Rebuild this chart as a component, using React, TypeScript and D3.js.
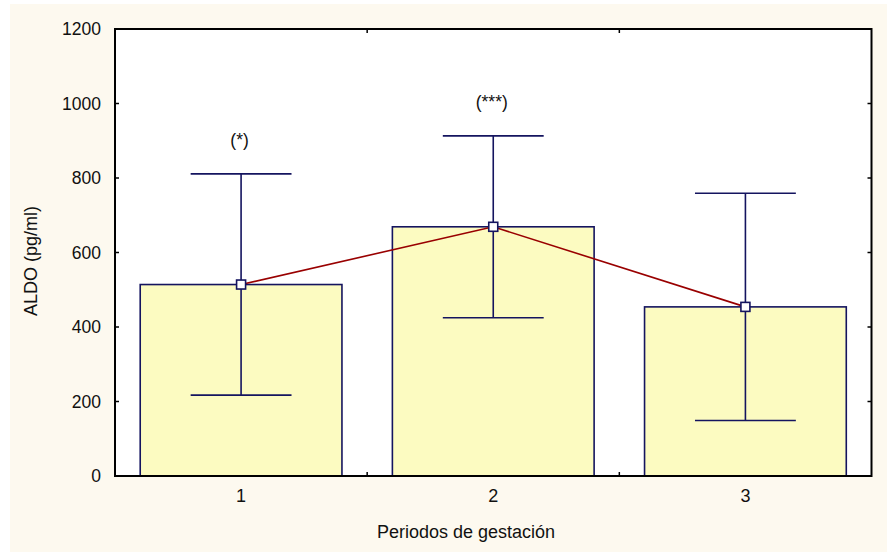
import React from "react";
import * as d3 from "d3";

// Gestation periods and ALDO means with their spread
const periods = ["1", "2", "3"];
const meanValues = [514, 669, 454];
const sdValues = [297, 244, 305];
const significance = ["(*)", "(***)", ""];
const yTicks = [0, 200, 400, 600, 800, 1000, 1200];

const W = 887;
const H = 552;
const margin = { left: 115, right: 871.5, top: 29, bottom: 476 };

const FONT = "'Liberation Sans', Arial, Helvetica, sans-serif";
const NAVY = "#14145f";
const BAR_FILL = "#fcfbc1";
const LINE_RED = "#990000";

export default function App() {
  const x = d3
    .scaleBand<string>()
    .domain(periods)
    .range([margin.left, margin.right])
    .paddingInner(0.2)
    .paddingOuter(0.1);
  const y = d3.scaleLinear().domain([0, 1200]).range([margin.bottom, margin.top]);

  const rows = periods.map((p, i) => ({
    p,
    mean: meanValues[i],
    lo: meanValues[i] - sdValues[i],
    hi: meanValues[i] + sdValues[i],
    note: significance[i],
  }));

  const cx = (p: string) => (x(p) as number) + x.bandwidth() / 2;
  const line = d3
    .line<(typeof rows)[number]>()
    .x((d) => cx(d.p))
    .y((d) => y(d.mean));

  // band boundaries used for the x tick marks
  const boundaries = periods.slice(1).map((p) => (x(p) as number) - (x.step() - x.bandwidth()) / 2);
  const capHalf = x.bandwidth() / 4;
  const tickLen = 4;

  return (
    <svg
      width={W}
      height={H}
      style={{ position: "absolute", left: 0, top: 0, fontFamily: FONT }}
    >
      <rect x={0} y={0} width={W} height={H} fill="#ffffff" />
      <rect x={10} y={4} width={W - 10} height={H - 4} fill="#fdf9ef" />
      <rect
        x={margin.left}
        y={margin.top}
        width={margin.right - margin.left}
        height={margin.bottom - margin.top}
        fill="#ffffff"
      />

      {/* bars */}
      {rows.map((d) => (
        <rect
          key={"bar" + d.p}
          x={x(d.p)}
          y={y(d.mean)}
          width={x.bandwidth()}
          height={y(0) - y(d.mean)}
          fill={BAR_FILL}
          stroke={NAVY}
          strokeWidth={1.6}
        />
      ))}

      {/* error bars */}
      {rows.map((d) => (
        <g key={"err" + d.p} stroke={NAVY} strokeWidth={1.6}>
          <line x1={cx(d.p)} x2={cx(d.p)} y1={y(d.lo)} y2={y(d.hi)} />
          <line x1={cx(d.p) - capHalf} x2={cx(d.p) + capHalf} y1={y(d.hi)} y2={y(d.hi)} />
          <line x1={cx(d.p) - capHalf} x2={cx(d.p) + capHalf} y1={y(d.lo)} y2={y(d.lo)} />
        </g>
      ))}

      {/* mean line */}
      <path d={line(rows) || ""} fill="none" stroke={LINE_RED} strokeWidth={1.6} />
      {rows.map((d) => (
        <rect
          key={"pt" + d.p}
          x={cx(d.p) - 4.5}
          y={y(d.mean) - 4.5}
          width={9}
          height={9}
          fill="#ffffff"
          stroke={NAVY}
          strokeWidth={1.6}
        />
      ))}

      {/* significance marks */}
      {rows.map((d) =>
        d.note ? (
          <text
            key={"n" + d.p}
            x={cx(d.p) - 1.5}
            y={y(d.hi) - 28}
            textAnchor="middle"
            fontSize={17.5}
            fill="#111"
          >
            {d.note}
          </text>
        ) : null
      )}

      {/* frame */}
      <rect
        x={margin.left}
        y={margin.top}
        width={margin.right - margin.left}
        height={margin.bottom - margin.top}
        fill="none"
        stroke="#000"
        strokeWidth={2}
      />

      {/* y ticks */}
      {yTicks.map((t) => (
        <g key={"yt" + t}>
          <line x1={margin.left} x2={margin.left + tickLen} y1={y(t)} y2={y(t)} stroke="#000" strokeWidth={1.5} />
          <line x1={margin.right} x2={margin.right - tickLen} y1={y(t)} y2={y(t)} stroke="#000" strokeWidth={1.5} />
          <text x={101} y={y(t) + 6} textAnchor="end" fontSize={17.5} fill="#111">
            {t}
          </text>
        </g>
      ))}

      {/* x ticks */}
      {boundaries.map((b, i) => (
        <g key={"xt" + i}>
          <line x1={b} x2={b} y1={margin.bottom} y2={margin.bottom - tickLen} stroke="#000" strokeWidth={1.5} />
          <line x1={b} x2={b} y1={margin.top} y2={margin.top + tickLen} stroke="#000" strokeWidth={1.5} />
        </g>
      ))}
      {periods.map((p) => (
        <text key={"xl" + p} x={cx(p)} y={502} textAnchor="middle" fontSize={18} fill="#111">
          {p}
        </text>
      ))}

      <text x={466} y={538} textAnchor="middle" fontSize={18} fill="#111">
        Periodos de gestación
      </text>
      <text
        transform="translate(37, 261) rotate(-90)"
        textAnchor="middle"
        fontSize={18}
        fill="#111"
      >
        ALDO (pg/ml)
      </text>
    </svg>
  );
}
